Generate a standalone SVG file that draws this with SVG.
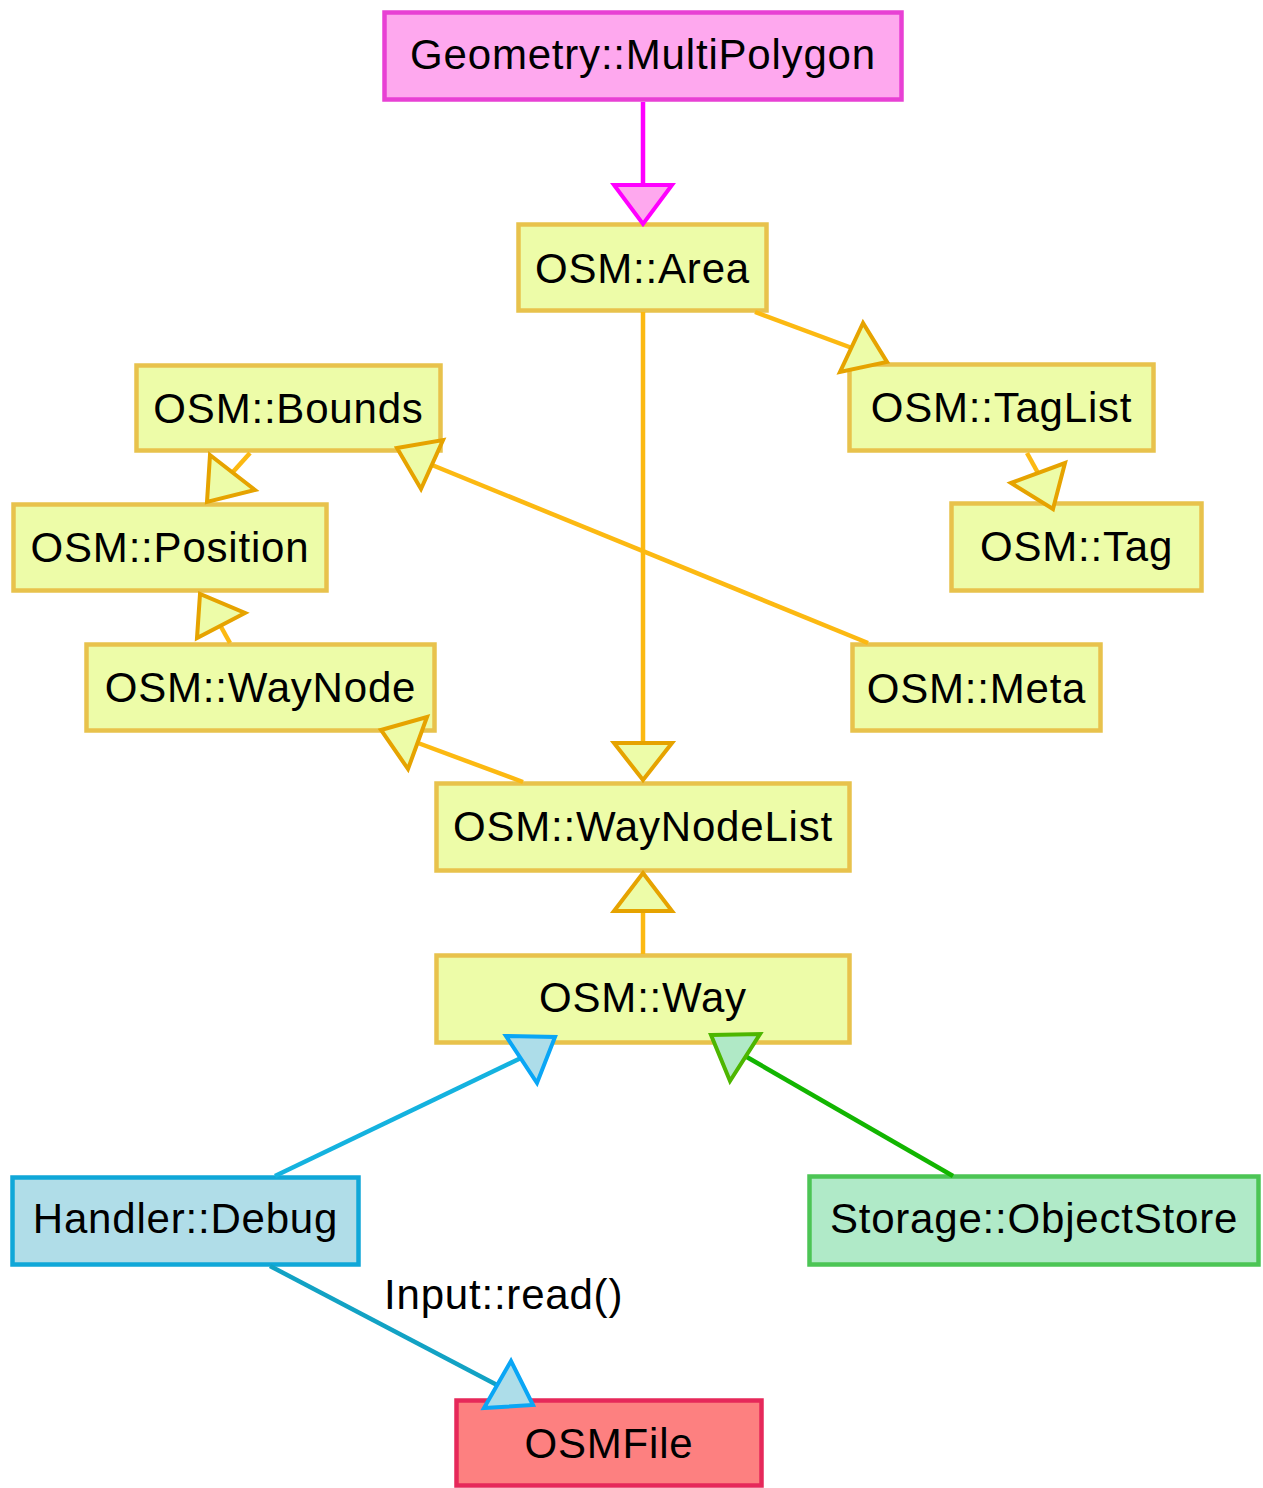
<svg xmlns="http://www.w3.org/2000/svg" width="1263" height="1488" viewBox="0 0 1263 1488">
  <style>
    text { font-family: "Liberation Sans", Arial, sans-serif; font-size: 42px; letter-spacing: 0.8px; fill: #000; }
    .node text { text-anchor: middle; }
    rect { stroke-width: 4.5; }
    .osm rect { fill: #edfca8; stroke: #e8c24c; }
    .geom rect { fill: #fea8ee; stroke: #e840d4; }
    .handler rect { fill: #b0dde8; stroke: #10a7d8; }
    .storage rect { fill: #b0eac8; stroke: #4cc555; }
    .file rect { fill: #fd8080; stroke: #e6285a; }
    .edge line { stroke-width: 4.5; fill: none; }
    .edge polygon { stroke-width: 4; stroke-linejoin: miter; }
    .mag line { stroke: #ff00ff; }
    .mag polygon { fill: #fea8ee; stroke: #ff00ff; }
    .yel line { stroke: #fcb912; }
    .yel polygon { fill: #edfca8; stroke: #e6a300; }
    .blu line { stroke: #14b2df; }
    .blu2 line { stroke: #12a2c4; }
    .blu polygon, .blu2 polygon { fill: #addde9; stroke: #0aa6f5; }
    .grn line { stroke: #12b500; }
    .grn polygon { fill: #b0e9c6; stroke: #4db600; }
  </style>

  <!-- nodes -->
  <g class="node geom" id="n-multipolygon">
    <rect x="384.5" y="12.5" width="517" height="87"/>
    <text x="643" y="69">Geometry::MultiPolygon</text>
  </g>
  <g class="node osm" id="n-area">
    <rect x="518.5" y="224.5" width="248" height="86"/>
    <text x="642.5" y="283">OSM::Area</text>
  </g>
  <g class="node osm" id="n-bounds">
    <rect x="136.5" y="365.5" width="304" height="85"/>
    <text x="288.5" y="423">OSM::Bounds</text>
  </g>
  <g class="node osm" id="n-taglist">
    <rect x="849.5" y="364.5" width="304" height="86"/>
    <text x="1001.5" y="422">OSM::TagList</text>
  </g>
  <g class="node osm" id="n-position">
    <rect x="13.5" y="504.5" width="313" height="86"/>
    <text x="170" y="562">OSM::Position</text>
  </g>
  <g class="node osm" id="n-tag">
    <rect x="951.5" y="503.5" width="250" height="87"/>
    <text x="1076.5" y="561">OSM::Tag</text>
  </g>
  <g class="node osm" id="n-waynode">
    <rect x="86.5" y="644.5" width="348" height="86"/>
    <text x="260.5" y="702">OSM::WayNode</text>
  </g>
  <g class="node osm" id="n-meta">
    <rect x="852.5" y="644.5" width="248" height="86"/>
    <text x="976.5" y="703">OSM::Meta</text>
  </g>
  <g class="node osm" id="n-waynodelist">
    <rect x="436.5" y="783.5" width="413" height="87"/>
    <text x="643" y="841">OSM::WayNodeList</text>
  </g>
  <g class="node osm" id="n-way">
    <rect x="436.5" y="955.5" width="413" height="87"/>
    <text x="643" y="1012">OSM::Way</text>
  </g>
  <g class="node handler" id="n-debug">
    <rect x="12.5" y="1177.5" width="346" height="87"/>
    <text x="185.5" y="1233">Handler::Debug</text>
  </g>
  <g class="node storage" id="n-objectstore">
    <rect x="809.5" y="1176.5" width="449" height="88"/>
    <text x="1034" y="1233">Storage::ObjectStore</text>
  </g>
  <g class="node file" id="n-osmfile">
    <rect x="456.5" y="1400.5" width="305" height="85"/>
    <text x="609" y="1458">OSMFile</text>
  </g>

  <!-- connectors: line first, arrowhead on top; drawn over the node borders -->
  <g id="connectors">
    <g class="edge mag" id="e-multipolygon-area">
      <line x1="643" y1="102" x2="643" y2="186"/>
      <polygon points="614,185 672,185 643,224"/>
    </g>
    <g class="edge yel" id="e-area-taglist">
      <line x1="755" y1="312" x2="852" y2="348"/>
      <polygon points="863,323 840,372 887,362"/>
    </g>
    <g class="edge yel" id="e-area-waynodelist">
      <line x1="643" y1="312" x2="643" y2="744"/>
      <polygon points="614,743 672,743 643,780"/>
    </g>
    <g class="edge yel" id="e-taglist-tag">
      <line x1="1027" y1="453" x2="1038" y2="473"/>
      <polygon points="1011,483 1065,463 1053,509"/>
    </g>
    <g class="edge yel" id="e-bounds-position">
      <line x1="250" y1="453" x2="232" y2="473"/>
      <polygon points="210,455 255,490 207,502"/>
    </g>
    <g class="edge yel" id="e-waynode-position">
      <line x1="230" y1="643" x2="220" y2="625"/>
      <polygon points="197,638 200,594 245,613"/>
    </g>
    <g class="edge yel" id="e-meta-bounds">
      <line x1="868" y1="643" x2="432" y2="465"/>
      <polygon points="397,448 443,440 421,489"/>
    </g>
    <g class="edge yel" id="e-waynodelist-waynode">
      <line x1="523" y1="782" x2="418" y2="743"/>
      <polygon points="381,730 427,717 408,769"/>
    </g>
    <g class="edge yel" id="e-way-waynodelist">
      <line x1="643" y1="954" x2="643" y2="911"/>
      <polygon points="614,911 672,911 643,873"/>
    </g>
    <g class="edge blu" id="e-debug-way">
      <line x1="275" y1="1176" x2="521" y2="1058"/>
      <polygon points="506,1036 555,1037 537,1083"/>
    </g>
    <g class="edge grn" id="e-objectstore-way">
      <line x1="953" y1="1176" x2="745" y2="1056"/>
      <polygon points="711,1035 760,1034 730,1081"/>
    </g>
    <g class="edge blu2" id="e-debug-osmfile">
      <line x1="270" y1="1266" x2="497" y2="1385"/>
      <polygon points="511,1361 484,1408 533,1405"/>
    </g>
    <text x="384" y="1309">Input::read()</text>
  </g>
</svg>
